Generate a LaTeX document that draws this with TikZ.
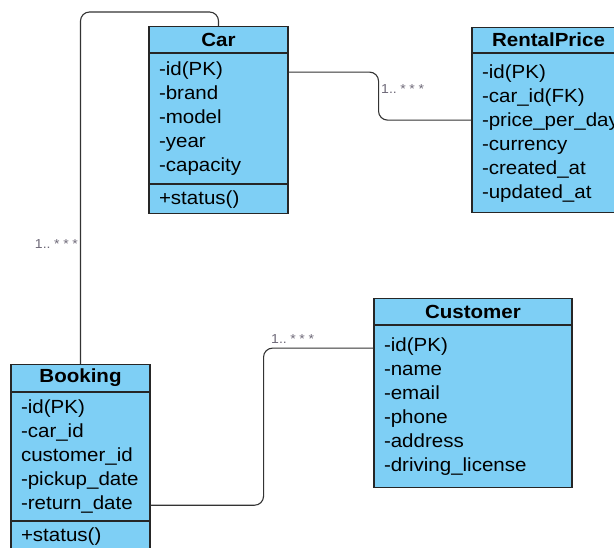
\documentclass[tikz,border=0pt]{standalone}
\usepackage{fontspec}
\setmainfont{Liberation Sans}[FakeStretch=1.08]
\usetikzlibrary{positioning,calc}

\definecolor{classblue}{RGB}{126,207,245}
\definecolor{multgray}{RGB}{110,105,120}

\begin{document}
\begin{tikzpicture}[x=1pt,y=1pt,
        classname/.style={draw=black!85,line width=1.1pt,fill=classblue,inner sep=0pt,
            font=\bfseries\fontsize{19}{24}\selectfont,anchor=north},
        members/.style={draw=black!85,line width=1.1pt,fill=classblue,align=left,
            inner xsep=10pt,inner ysep=0pt,font=\fontsize{19}{24}\selectfont},
        assoc/.style={draw=black!80,line width=1.1pt,rounded corners=9pt},
        mult/.style={text=multgray,inner sep=0pt,font=\fontsize{13}{13}\selectfont}]

    \useasboundingbox (0,0) rectangle (614,-547);
    \clip (0,0) rectangle (614,-547);

    % Car
    \node[classname,minimum width=139pt,minimum height=26pt] (car) at (218.5,-26) {Car};
    \node[members,text width=119pt,minimum height=130pt,below=0pt of car] (car-attr)
        {-id(PK)\\-brand\\-model\\-year\\-capacity};
    \node[members,text width=119pt,minimum height=29pt,below=0pt of car-attr] (car-ops)
        {+status()};

    % RentalPrice
    \node[classname,minimum width=153pt,minimum height=25pt] (rental) at (548.5,-27) {RentalPrice};
    \node[members,text width=133pt,minimum height=159pt,below=0pt of rental] (rental-attr)
        {-id(PK)\\-car\_id(FK)\\\mbox{-price\_per\_day}\\-currency\\-created\_at\\-updated\_at};

    % Booking
    \node[classname,minimum width=139pt,minimum height=27pt] (booking) at (80.5,-364) {Booking};
    \node[members,text width=119pt,minimum height=128pt,below=0pt of booking] (booking-attr)
        {-id(PK)\\-car\_id\\customer\_id\\-pickup\_date\\-return\_date};
    \node[members,text width=119pt,minimum height=29pt,below=0pt of booking-attr] (booking-ops)
        {+status()};

    % Customer
    \node[classname,minimum width=198pt,minimum height=26pt] (customer) at (473,-298) {Customer};
    \node[members,text width=178pt,minimum height=162pt,below=0pt of customer] (customer-attr)
        {-id(PK)\\-name\\-email\\-phone\\-address\\-driving\_license};

    % associations
    \draw[assoc] (car.north) -- ++(0,14) -| (booking.north);
    \draw[assoc] ($(car-attr.north east)+(0,-19)$) -- ++(90,0)
        |- ($(rental-attr.north west)+(0,-67)$);
    \draw[assoc] ($(booking-attr.south east)+(0,16)$) -- ++(113,0)
        |- ($(customer-attr.north west)+(0,-23)$);

    \node[mult,anchor=east] (mult-booking) at (78,-244) {1..\;*\;*\;*};
    \node[mult,anchor=west] (mult-rental) at (381,-89) {1..\;*\;*\;*};
    \node[mult,anchor=west] (mult-customer) at (271,-339) {1..\;*\;*\;*};
\end{tikzpicture}
\end{document}
